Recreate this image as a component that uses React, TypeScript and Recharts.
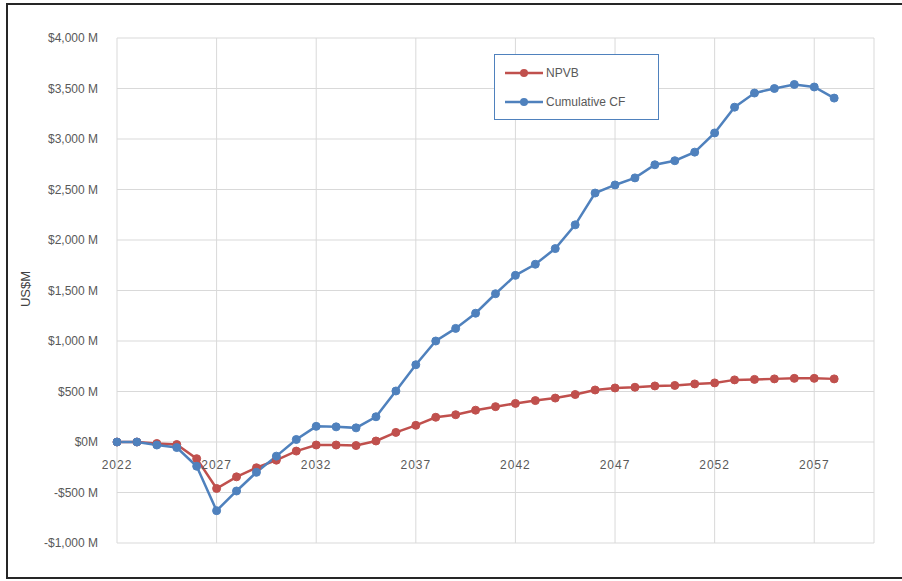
import React from "react"
import { CartesianGrid, Line, LineChart, XAxis, YAxis } from "recharts"

const years = [
  2022, 2023, 2024, 2025, 2026, 2027, 2028, 2029, 2030, 2031, 2032, 2033, 2034,
  2035, 2036, 2037, 2038, 2039, 2040, 2041, 2042, 2043, 2044, 2045, 2046, 2047,
  2048, 2049, 2050, 2051, 2052, 2053, 2054, 2055, 2056, 2057, 2058,
]

const npvb = [
  0, 0, -15, -25, -165, -460, -345, -255, -180, -90, -30, -30, -35, 10, 95, 165,
  245, 270, 315, 350, 382, 410, 435, 470, 515, 535, 542, 555, 560, 575, 585, 615,
  620, 625, 630, 630, 625,
]

const cumulativeCf = [
  0, 0, -30, -55, -240, -680, -485, -300, -140, 25, 155, 150, 140, 250, 505, 765,
  1000, 1125, 1275, 1468, 1650, 1760, 1915, 2150, 2465, 2545, 2615, 2745, 2785,
  2870, 3060, 3315, 3455, 3500, 3540, 3515, 3405,
]

const xTicks = [2022, 2027, 2032, 2037, 2042, 2047, 2052, 2057]
const yTicks = [-1000, -500, 0, 500, 1000, 1500, 2000, 2500, 3000, 3500, 4000]

const series = [
  { key: "npvb", name: "NPVB", color: "#c0504d" },
  { key: "cumulativeCf", name: "Cumulative CF", color: "#4f81bd" },
]

const data = years.map((year, i) => ({
  year,
  npvb: npvb[i],
  cumulativeCf: cumulativeCf[i],
}))

const W = 902
const H = 581
const MARGIN = { top: 38, right: 28, bottom: 8, left: 0 }
const X_AXIS_H = 30
const Y_MIN = -1000
const Y_MAX = 4000
const FONT = "'Liberation Sans', Arial, sans-serif"

// distance from the bottom of the plot up to the zero line
const plotH = H - MARGIN.top - MARGIN.bottom - X_AXIS_H
const zeroShift = (plotH * (0 - Y_MIN)) / (Y_MAX - Y_MIN)

const fmtMoney = (v: number) => {
  if (v === 0) return "$0M"
  const s = `$${Math.abs(v).toLocaleString("en-US")} M`
  return v < 0 ? `-${s}` : s
}

const YearTick = (props: any) => {
  const { x, y, payload } = props
  return (
    <text
      x={x}
      y={y - zeroShift + 25}
      textAnchor="middle"
      fill="#595959"
      fontSize={12}
      letterSpacing={1}
      fontFamily={FONT}
    >
      {payload.value}
    </text>
  )
}

const LegendBox = () => (
  <div
    style={{
      position: "absolute",
      left: 494,
      top: 54,
      border: "1px solid #4f81bd",
      width: 165,
      height: 66,
      boxSizing: "border-box",
      background: "#fff",
      fontFamily: FONT,
      fontSize: 12,
      color: "#595959",
      paddingTop: 3,
    }}
  >
    {series.map((s) => (
      <div key={s.key} style={{ display: "flex", alignItems: "center", height: 29, paddingLeft: 10 }}>
        <svg width={38} height={10} style={{ marginRight: 3 }}>
          <line x1={0} y1={5} x2={38} y2={5} stroke={s.color} strokeWidth={2.5} />
          <circle cx={19} cy={5} r={4} fill={s.color} />
        </svg>
        <span>{s.name}</span>
      </div>
    ))}
  </div>
)

export default function App() {
  return (
    <div style={{ position: "absolute", left: 0, top: 0, width: W, height: H, background: "#fff", overflow: "hidden" }}>
      <div
        style={{
          position: "absolute",
          left: 6,
          top: 3,
          width: 900,
          height: 576,
          border: "2px solid #262626",
          boxSizing: "border-box",
        }}
      />
      <div
        style={{
          position: "absolute",
          left: 25,
          top: 289,
          transform: "translate(-50%, -50%) rotate(-90deg)",
          fontFamily: FONT,
          fontSize: 13,
          color: "#404040",
          whiteSpace: "nowrap",
        }}
      >
        US$M
      </div>
      <LineChart width={W} height={H} data={data} margin={MARGIN} style={{ position: "absolute", left: 0, top: 0 }}>
        <CartesianGrid stroke="#d9d9d9" strokeWidth={1} />
        <XAxis
          dataKey="year"
          type="number"
          domain={[2022, 2060]}
          ticks={xTicks}
          height={X_AXIS_H}
          axisLine={false}
          tickLine={false}
          tickSize={0}
          tick={<YearTick />}
          interval={0}
        />
        <YAxis
          type="number"
          domain={[Y_MIN, Y_MAX]}
          ticks={yTicks}
          width={117}
          axisLine={false}
          tickLine={false}
          tickMargin={13}
          tickFormatter={fmtMoney}
          tick={{ fill: "#595959", fontSize: 12, fontFamily: FONT }}
          interval={0}
        />
        {series.map((s) => (
          <Line
            key={s.key}
            dataKey={s.key}
            name={s.name}
            stroke={s.color}
            strokeWidth={2.5}
            dot={{ r: 4, fill: s.color, stroke: s.color, strokeWidth: 1 }}
            isAnimationActive={false}
          />
        ))}
      </LineChart>
      <LegendBox />
    </div>
  )
}
